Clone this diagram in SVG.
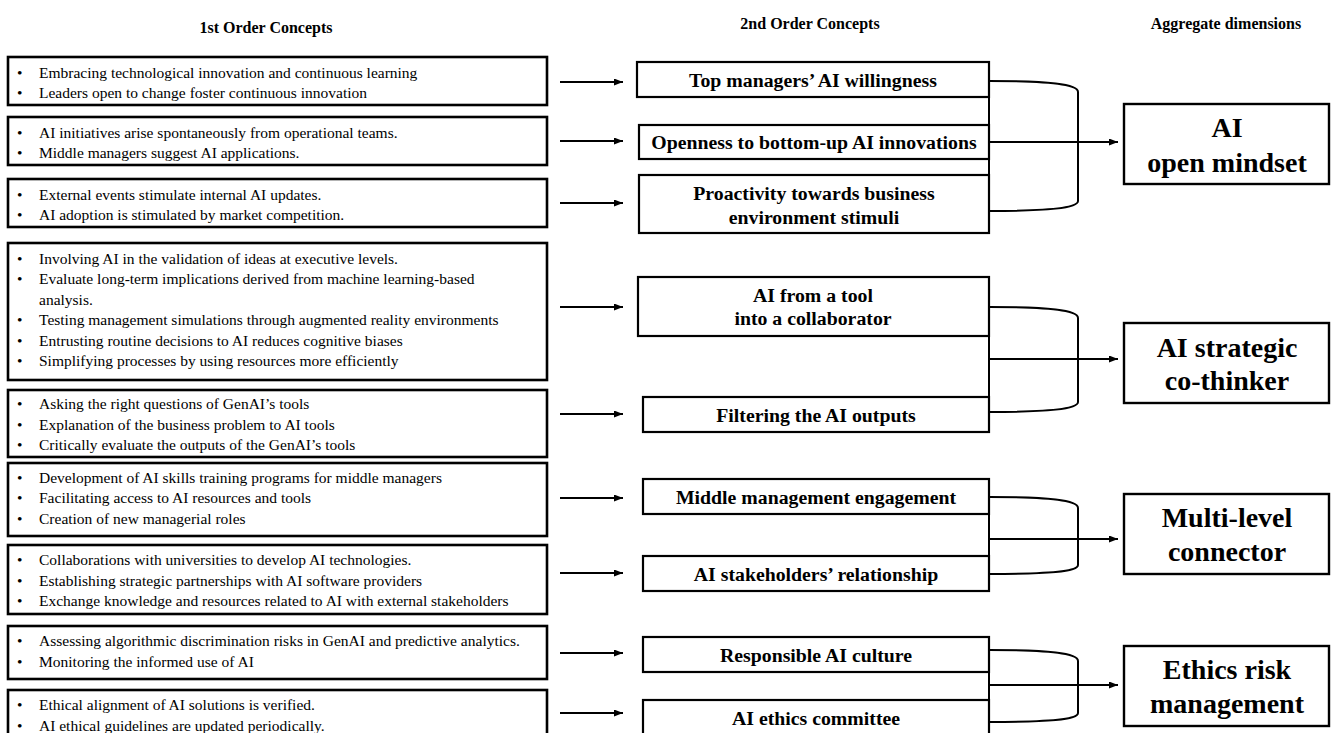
<svg xmlns="http://www.w3.org/2000/svg" width="1331" height="733" viewBox="0 0 1331 733">
<style>
  text { font-family: "Liberation Serif", "Times New Roman", serif; fill: #000; }
  .hdr { font-size: 16px; font-weight: bold; text-anchor: middle; }
  .item { font-size: 15.5px; }
  .mid { font-size: 19.8px; font-weight: bold; text-anchor: middle; }
  .agg { font-size: 28px; font-weight: bold; text-anchor: middle; }
  .lbox { fill: #fff; stroke: #000; stroke-width: 2.6; }
  .mbox { fill: #fff; stroke: #000; stroke-width: 2.2; }
  .abox { fill: #fff; stroke: #000; stroke-width: 2.4; }
  .con { fill: none; stroke: #000; stroke-width: 2; }
  .arr { fill: none; stroke: #000; stroke-width: 2; marker-end: url(#ah); }
</style>
<defs>
  <marker id="ah" markerUnits="userSpaceOnUse" markerWidth="10" markerHeight="8" refX="9" refY="3.5" orient="auto">
    <path d="M0,0 L9,3.5 L0,7 z" fill="#000"/>
  </marker>
</defs>
<rect width="1331" height="733" fill="#fff"/>

<g id="headers">
  <text class="hdr" x="266" y="33">1st Order Concepts</text>
  <text class="hdr" x="810" y="29">2nd Order Concepts</text>
  <text class="hdr" x="1226" y="29">Aggregate dimensions</text>
</g>

<!-- 1st order concept boxes -->
<g id="c1">
  <rect class="lbox" x="8" y="57" width="539" height="48"/>
  <text class="item"><tspan x="17" y="77.5">•</tspan><tspan x="39" y="77.5">Embracing technological innovation and continuous learning</tspan><tspan x="17" y="98">•</tspan><tspan x="39" y="98">Leaders open to change foster continuous innovation</tspan></text>
</g>
<g id="c2">
  <rect class="lbox" x="8" y="117" width="539" height="48"/>
  <text class="item"><tspan x="17" y="137.5">•</tspan><tspan x="39" y="137.5">AI initiatives arise spontaneously from operational teams.</tspan><tspan x="17" y="158">•</tspan><tspan x="39" y="158">Middle managers suggest AI applications.</tspan></text>
</g>
<g id="c3">
  <rect class="lbox" x="8" y="179" width="539" height="48"/>
  <text class="item"><tspan x="17" y="199.5">•</tspan><tspan x="39" y="199.5">External events stimulate internal AI updates.</tspan><tspan x="17" y="220">•</tspan><tspan x="39" y="220">AI adoption is stimulated by market competition.</tspan></text>
</g>
<g id="c4">
  <rect class="lbox" x="8" y="243" width="539" height="137"/>
  <text class="item"><tspan x="17" y="263.5">•</tspan><tspan x="39" y="263.5">Involving AI in the validation of ideas at executive levels.</tspan><tspan x="17" y="284">•</tspan><tspan x="39" y="284">Evaluate long-term implications derived from machine learning-based</tspan><tspan x="39" y="304.5">analysis.</tspan><tspan x="17" y="325">•</tspan><tspan x="39" y="325">Testing management simulations through augmented reality environments</tspan><tspan x="17" y="345.5">•</tspan><tspan x="39" y="345.5">Entrusting routine decisions to AI reduces cognitive biases</tspan><tspan x="17" y="366">•</tspan><tspan x="39" y="366">Simplifying processes by using resources more efficiently</tspan></text>
</g>
<g id="c5">
  <rect class="lbox" x="8" y="390" width="539" height="67"/>
  <text class="item"><tspan x="17" y="409">•</tspan><tspan x="39" y="409">Asking the right questions of GenAI’s tools</tspan><tspan x="17" y="429.5">•</tspan><tspan x="39" y="429.5">Explanation of the business problem to AI tools</tspan><tspan x="17" y="450">•</tspan><tspan x="39" y="450">Critically evaluate the outputs of the GenAI’s tools</tspan></text>
</g>
<g id="c6">
  <rect class="lbox" x="8" y="463" width="539" height="73"/>
  <text class="item"><tspan x="17" y="482.5">•</tspan><tspan x="39" y="482.5">Development of AI skills training programs for middle managers</tspan><tspan x="17" y="503">•</tspan><tspan x="39" y="503">Facilitating access to AI resources and tools</tspan><tspan x="17" y="523.5">•</tspan><tspan x="39" y="523.5">Creation of new managerial roles</tspan></text>
</g>
<g id="c7">
  <rect class="lbox" x="8" y="545" width="539" height="69"/>
  <text class="item"><tspan x="17" y="565">•</tspan><tspan x="39" y="565">Collaborations with universities to develop AI technologies.</tspan><tspan x="17" y="585.5">•</tspan><tspan x="39" y="585.5">Establishing strategic partnerships with AI software providers</tspan><tspan x="17" y="606">•</tspan><tspan x="39" y="606">Exchange knowledge and resources related to AI with external stakeholders</tspan></text>
</g>
<g id="c8">
  <rect class="lbox" x="8" y="626" width="539" height="53"/>
  <text class="item"><tspan x="17" y="646">•</tspan><tspan x="39" y="646">Assessing algorithmic discrimination risks in GenAI and predictive analytics.</tspan><tspan x="17" y="666.5">•</tspan><tspan x="39" y="666.5">Monitoring the informed use of AI</tspan></text>
</g>
<g id="c9">
  <rect class="lbox" x="8" y="690" width="539" height="60"/>
  <text class="item"><tspan x="17" y="710">•</tspan><tspan x="39" y="710">Ethical alignment of AI solutions is verified.</tspan><tspan x="17" y="730.5">•</tspan><tspan x="39" y="730.5">AI ethical guidelines are updated periodically.</tspan></text>
</g>

<!-- 2nd order concept boxes -->
<g id="t1">
  <rect class="mbox" x="637" y="62" width="352" height="35"/>
  <text class="mid" x="813" y="86.5">Top managers’ AI willingness</text>
</g>
<g id="t2">
  <rect class="mbox" x="639" y="125" width="350" height="34"/>
  <text class="mid" x="814" y="148.5">Openness to bottom-up AI innovations</text>
</g>
<g id="t3">
  <rect class="mbox" x="639" y="175" width="350" height="58"/>
  <text class="mid" x="814" y="200">Proactivity towards business</text>
  <text class="mid" x="814" y="224">environment stimuli</text>
</g>
<g id="t4">
  <rect class="mbox" x="638" y="277" width="351" height="59"/>
  <text class="mid" x="813" y="302">AI from a tool</text>
  <text class="mid" x="813" y="325">into a collaborator</text>
</g>
<g id="t5">
  <rect class="mbox" x="643" y="397" width="346" height="35"/>
  <text class="mid" x="816" y="421.5">Filtering the AI outputs</text>
</g>
<g id="t6">
  <rect class="mbox" x="643" y="479" width="346" height="35"/>
  <text class="mid" x="816" y="503.5">Middle management engagement</text>
</g>
<g id="t7">
  <rect class="mbox" x="643" y="556" width="346" height="35"/>
  <text class="mid" x="816" y="580.5">AI stakeholders’ relationship</text>
</g>
<g id="t8">
  <rect class="mbox" x="643" y="637" width="346" height="35"/>
  <text class="mid" x="816" y="661.5">Responsible AI culture</text>
</g>
<g id="t9">
  <rect class="mbox" x="643" y="700" width="346" height="40"/>
  <text class="mid" x="816" y="725">AI ethics committee</text>
</g>

<!-- aggregate dimensions -->
<g id="a1">
  <rect class="abox" x="1124" y="104" width="205" height="80"/>
  <text class="agg" x="1227" y="137">AI</text>
  <text class="agg" x="1227" y="172">open mindset</text>
</g>
<g id="a2">
  <rect class="abox" x="1124" y="323" width="205" height="80"/>
  <text class="agg" x="1227" y="357">AI strategic</text>
  <text class="agg" x="1227" y="390">co-thinker</text>
</g>
<g id="a3">
  <rect class="abox" x="1124" y="494" width="205" height="80"/>
  <text class="agg" x="1227" y="527">Multi-level</text>
  <text class="agg" x="1227" y="561">connector</text>
</g>
<g id="a4">
  <rect class="abox" x="1124" y="646" width="205" height="80"/>
  <text class="agg" x="1227" y="679">Ethics risk</text>
  <text class="agg" x="1227" y="713">management</text>
</g>

<g id="connectors">
  <!-- 1st -> 2nd order arrows -->
  <line class="arr" x1="560" y1="82" x2="623" y2="82"/>
  <line class="arr" x1="560" y1="141" x2="623" y2="141"/>
  <line class="arr" x1="560" y1="203" x2="623" y2="203"/>
  <line class="arr" x1="560" y1="307" x2="623" y2="307"/>
  <line class="arr" x1="560" y1="414" x2="623" y2="414"/>
  <line class="arr" x1="560" y1="498" x2="623" y2="498"/>
  <line class="arr" x1="560" y1="573" x2="623" y2="573"/>
  <line class="arr" x1="560" y1="653" x2="623" y2="653"/>
  <line class="arr" x1="560" y1="713" x2="623" y2="713"/>
  <!-- vertical joins along right edges of 2nd order boxes -->
  <line class="con" x1="989" y1="62" x2="989" y2="233"/>
  <line class="con" x1="989" y1="277" x2="989" y2="432"/>
  <line class="con" x1="989" y1="479" x2="989" y2="591"/>
  <line class="con" x1="989" y1="637" x2="989" y2="740"/>
  <!-- brackets -->
  <path class="con" d="M989,81 C1048,81 1078,84 1078,92 L1078,201 C1078,208 1048,211 989,211"/>
  <path class="con" d="M989,307 C1048,307 1078,310 1078,318 L1078,402 C1078,409 1048,412 989,412"/>
  <path class="con" d="M989,497 C1048,497 1078,500 1078,508 L1078,565 C1078,572 1048,574 989,574"/>
  <path class="con" d="M989,650 C1048,650 1078,653 1078,661 L1078,713 C1078,720 1048,722 989,722"/>
  <!-- arrows to aggregate dimensions -->
  <line class="arr" x1="989" y1="142" x2="1118" y2="142"/>
  <line class="arr" x1="989" y1="359" x2="1118" y2="359"/>
  <line class="arr" x1="989" y1="539" x2="1118" y2="539"/>
  <line class="arr" x1="989" y1="685" x2="1118" y2="685"/>
</g>
</svg>
